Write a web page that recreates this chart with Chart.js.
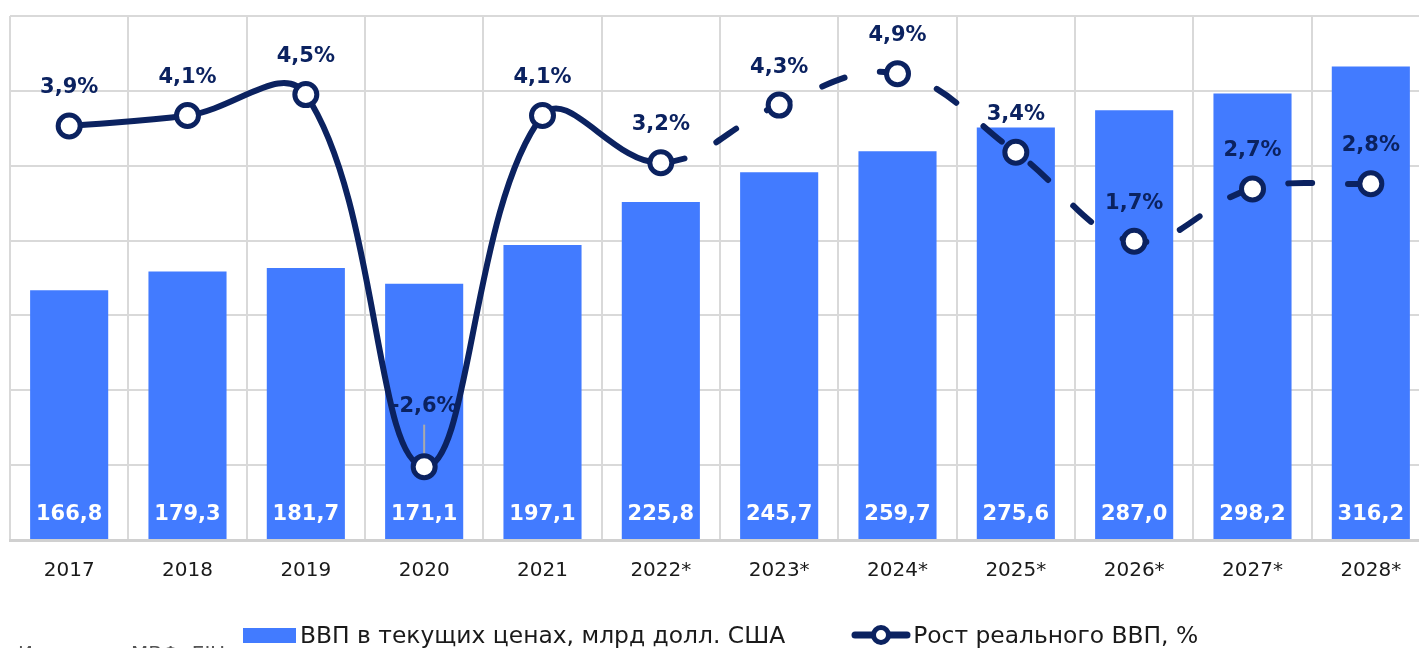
<!DOCTYPE html>
<html>
<head>
<meta charset="utf-8">
<script src="https://cdn.jsdelivr.net/npm/chart.js@4/dist/chart.umd.min.js"></script>
<style>
  html, body { margin: 0; padding: 0; background: #fff; overflow: hidden; }
  #wrap { position: relative; width: 1452px; height: 648px; margin-left: -6px; }
  #source { position: absolute; left: 24px; top: 641px; font: 20px "DejaVu Sans", sans-serif; color: #555; white-space: nowrap; }
  #legend { position: absolute; left: 249px; top: 619px; height: 32px; display: flex; align-items: center;
            font: 23.4px "DejaVu Sans", sans-serif; color: #1a1a1a; white-space: nowrap; }
  #legend .box { width: 53px; height: 15px; margin-right: 4px; }
  #legend canvas { margin-left: 66px; margin-right: 2px; }
</style>
</head>
<body>
<div id="wrap">
  <canvas id="chart" width="1452" height="648"></canvas>
  <div id="legend"></div>
  <div id="source">Источник: МВФ, EIU</div>
</div>
<script>
// data
const years = ['2017', '2018', '2019', '2020', '2021', '2022*', '2023*', '2024*', '2025*', '2026*', '2027*', '2028*'];
const gdpNominal = [166.8, 179.3, 181.7, 171.1, 197.1, 225.8, 245.7, 259.7, 275.6, 287.0, 298.2, 316.2];
const gdpGrowth = [3.9, 4.1, 4.5, -2.6, 4.1, 3.2, 4.3, 4.9, 3.4, 1.7, 2.7, 2.8];
const forecastFrom = 5; // index of 2022*, dashed from here

const barColor = '#427bff';
const navy = '#0b2260';

const fmt = (v, d) => v.toFixed(d).replace('.', ',');

// draws the value labels
const valueLabels = {
    id: 'valueLabels',
    afterDatasetDraw(chart, args) {
        const ctx = chart.ctx;
        if (args.index === 1) {
            // bar labels
            const meta = chart.getDatasetMeta(1);
            ctx.save();
            ctx.font = 'bold 21px "DejaVu Sans", sans-serif';
            ctx.fillStyle = '#fff';
            ctx.textAlign = 'center';
            ctx.textBaseline = 'middle';
            const yBase = chart.scales.y.getPixelForValue(0);
            meta.data.forEach((bar, i) => {
                ctx.fillText(fmt(gdpNominal[i], 1), bar.x, yBase - 25);
            });
            // growth labels, drawn before the line so it passes over them
            const lm = chart.getDatasetMeta(0);
            ctx.fillStyle = navy;
            lm.data.forEach((pt, i) => {
                let y = pt.y - 38;
                if (gdpGrowth[i] < 0) {
                    y = pt.y - 60;
                    ctx.strokeStyle = '#aaaaaa';
                    ctx.lineWidth = 2;
                    ctx.beginPath();
                    ctx.moveTo(pt.x, y + 18);
                    ctx.lineTo(pt.x, pt.y - 10);
                    ctx.stroke();
                }
                ctx.fillText(fmt(gdpGrowth[i], 1) + '%', pt.x, y);
            });
            ctx.restore();
        }
    }
};

const ctx = document.getElementById('chart').getContext('2d');
const chart = new Chart(ctx, {
    type: 'bar',
    data: {
        labels: years,
        datasets: [
            {
                type: 'line',
                label: 'Рост реального ВВП, %',
                data: gdpGrowth,
                yAxisID: 'yR',
                borderColor: navy,
                borderWidth: 6,
                borderCapStyle: 'round',
                tension: 0.4,
                pointRadius: 11,
                pointBorderWidth: 5,
                pointBackgroundColor: '#fff',
                pointBorderColor: navy,
                segment: {
                    borderDash: c => c.p0DataIndex >= forecastFrom ? [24, 36] : undefined
                }
            },
            {
                label: 'ВВП в текущих ценах, млрд долл. США',
                data: gdpNominal,
                yAxisID: 'y',
                backgroundColor: barColor,
                barPercentage: 0.66,
                categoryPercentage: 1
            }
        ]
    },
    options: {
        responsive: false,
        animation: false,
        layout: { padding: { left: 4, right: 4, top: 12, bottom: 63 } },
        scales: {
            x: {
                grid: { color: '#d9d9d9', lineWidth: 2, drawTicks: false, offset: true },
                border: { color: '#d0d0d0', width: 3 },
                ticks: { color: '#1a1a1a', padding: 19, font: { family: 'DejaVu Sans', size: 20 } },
                afterFit(scale) { scale.height = 45; }
            },
            y: {
                min: 0, max: 350,
                ticks: { display: false, stepSize: 50 },
                grid: { color: '#d9d9d9', lineWidth: 2, drawTicks: false },
                border: { display: false },
                afterFit(scale) { scale.width = 0; }
            },
            yR: {
                position: 'right',
                display: false,
                min: -4, max: 6
            }
        },
        plugins: {
            tooltip: { enabled: false },
            legend: { display: false }
        }
    },
    plugins: [valueLabels]
});

// legend below the chart
const legend = document.getElementById('legend');
const box = document.createElement('div');
box.className = 'box';
box.style.background = barColor;
legend.appendChild(box);
legend.appendChild(document.createTextNode(chart.data.datasets[1].label));
const icon = document.createElement('canvas');
icon.width = 60; icon.height = 24;
const g = icon.getContext('2d');
g.strokeStyle = navy;
g.lineWidth = 7;
g.lineCap = 'round';
g.beginPath(); g.moveTo(4, 12); g.lineTo(56, 12); g.stroke();
g.beginPath(); g.arc(30, 12, 7.5, 0, Math.PI * 2);
g.fillStyle = '#fff'; g.fill();
g.lineWidth = 5; g.stroke();
legend.appendChild(icon);
legend.appendChild(document.createTextNode(chart.data.datasets[0].label));
</script>
</body>
</html>
